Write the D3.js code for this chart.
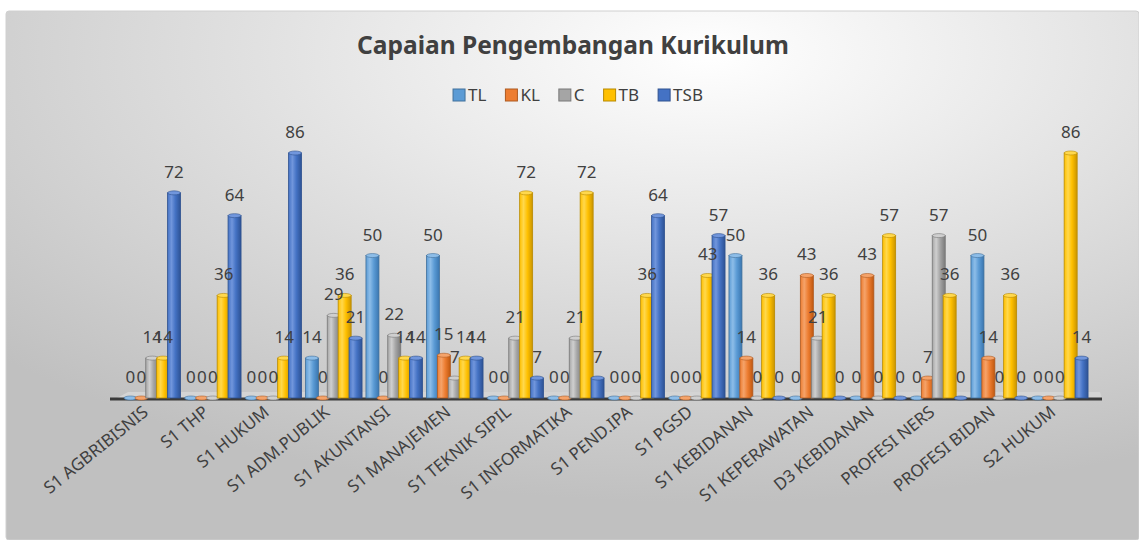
<!DOCTYPE html>
<html>
<head>
<meta charset="utf-8">
<script src="https://cdn.jsdelivr.net/npm/d3@7"></script>
<style>
  body { margin: 0; background: #fff; }
  svg { display: block; font-family: "Noto Sans", "Open Sans", sans-serif; }
</style>
</head>
<body>
<div id="chart"></div>
<script>
// data
var categories = ["S1 AGBRIBISNIS", "S1 THP", "S1 HUKUM", "S1 ADM.PUBLIK", "S1 AKUNTANSI",
  "S1 MANAJEMEN", "S1 TEKNIK SIPIL", "S1 INFORMATIKA", "S1 PEND.IPA", "S1 PGSD",
  "S1 KEBIDANAN", "S1 KEPERAWATAN", "D3 KEBIDANAN", "PROFESI NERS", "PROFESI BIDAN", "S2 HUKUM"];
var series = ["TL", "KL", "C", "TB", "TSB"];
var TL  = [0, 0, 0, 14, 50, 50, 0, 0, 0, 0, 50, 0, 0, 0, 50, 0];
var KL  = [0, 0, 0, 0, 0, 15, 0, 0, 0, 0, 14, 43, 43, 7, 14, 0];
var C   = [14, 0, 0, 29, 22, 7, 21, 21, 0, 0, 0, 21, 0, 57, 0, 0];
var TB  = [14, 36, 14, 36, 14, 14, 72, 72, 36, 43, 36, 36, 57, 36, 36, 86];
var TSB = [72, 64, 86, 21, 14, 14, 7, 7, 64, 57, 0, 0, 0, 0, 0, 14];
var values = { TL: TL, KL: KL, C: C, TB: TB, TSB: TSB };

var width = 1139, height = 540;
var baseY = 398;          // floor of the plot
var barW = 13;            // drawn width of one column
var textColor = "#404040";

// base, light, dark, outline
var palette = {
  TL:  ["#5b9bd5", "#8dbde8", "#3a76b0", "#41719c"],
  KL:  ["#ed7d31", "#f5a36a", "#c0580f", "#ae5a21"],
  C:   ["#a5a5a5", "#cfcfcf", "#7a7a7a", "#787878"],
  TB:  ["#ffc000", "#ffd84d", "#c99400", "#b88a00"],
  TSB: ["#4472c4", "#7196dc", "#2d5294", "#2f528f"]
};

var svg = d3.select("#chart").append("svg")
  .attr("width", width)
  .attr("height", height);

var defs = svg.append("defs");

// background gradient of the chart box
var bg = defs.append("radialGradient")
  .attr("id", "bg")
  .attr("cx", "62%").attr("cy", "8%").attr("r", "85%")
  .attr("gradientUnits", "objectBoundingBox");
bg.append("stop").attr("offset", "0%").attr("stop-color", "#ffffff");
bg.append("stop").attr("offset", "50%").attr("stop-color", "#dfdfdf");
bg.append("stop").attr("offset", "100%").attr("stop-color", "#c0c0c0");

series.forEach(function(s) {
  var g = defs.append("linearGradient").attr("id", "grad_" + s)
    .attr("x1", "0%").attr("x2", "100%").attr("y1", "0%").attr("y2", "0%");
  g.append("stop").attr("offset", "0%").attr("stop-color", palette[s][0]);
  g.append("stop").attr("offset", "30%").attr("stop-color", palette[s][1]);
  g.append("stop").attr("offset", "60%").attr("stop-color", palette[s][0]);
  g.append("stop").attr("offset", "100%").attr("stop-color", palette[s][2]);
});

svg.append("rect")
  .attr("x", 6).attr("y", 11)
  .attr("width", width - 6).attr("height", height - 11)
  .attr("rx", 3)
  .attr("fill", "url(#bg)")
  .attr("stroke", "#d0d0d0");

// title
svg.append("text")
  .attr("x", 573).attr("y", 54)
  .attr("text-anchor", "middle")
  .attr("font-size", 24.5)
  .attr("font-weight", "bold")
  .attr("fill", textColor)
  .text("Capaian  Pengembangan Kurikulum");

// legend
var legend = svg.append("g");
var lx = 0;
series.forEach(function(s) {
  var item = legend.append("g").attr("transform", "translate(" + lx + ",0)");
  item.append("rect")
    .attr("x", 0).attr("y", -6)
    .attr("width", 12).attr("height", 12)
    .attr("fill", palette[s][0])
    .attr("stroke", palette[s][3]);
  var t = item.append("text")
    .attr("x", 15).attr("y", 6)
    .attr("font-size", 17)
    .attr("fill", textColor)
    .text(s);
  lx += 15 + t.node().getComputedTextLength() + 19;
});
legend.attr("transform", "translate(" + (578 - (lx - 19) / 2) + ",95)");

// scales
var x0 = d3.scaleBand().domain(categories).range([122, 1090]).padding(0);
var x1 = d3.scaleBand().domain(series).range([3, x0.bandwidth() - 3]).padding(0);
var y = d3.scaleLinear().domain([0, 100]).range([baseY, baseY - 284.9]);

// floor strip and axis line
svg.append("path")
  .attr("d", "M" + 117 + "," + (baseY) + "L" + 128 + "," + (baseY - 6) +
             "L" + 1100 + "," + (baseY - 6) + "L" + 1102 + "," + baseY + "Z")
  .attr("fill", "#d4d4d4");
svg.append("line")
  .attr("x1", 110).attr("x2", 1102)
  .attr("y1", baseY + 1).attr("y2", baseY + 1)
  .attr("stroke", "#3a3a3a")
  .attr("stroke-width", 3);

// columns
var groups = svg.append("g").selectAll("g")
  .data(categories)
  .enter().append("g")
  .attr("transform", function(d) { return "translate(" + x0(d) + ",0)"; });

var cols = groups.selectAll("g.col")
  .data(function(d, i) {
    return series.map(function(s) { return { key: s, value: values[s][i] }; });
  })
  .enter().append("g")
  .attr("class", "col");

cols.append("rect")
  .attr("x", function(d) { return x1(d.key) + x1.bandwidth() / 2 - barW / 2; })
  .attr("y", function(d) { return y(d.value); })
  .attr("width", barW)
  .attr("height", function(d) { return y(0) - y(d.value); })
  .attr("fill", function(d) { return "url(#grad_" + d.key + ")"; })
  .attr("stroke", function(d) { return palette[d.key][3]; })
  .attr("stroke-width", 0.8);

cols.append("ellipse")
  .attr("cx", function(d) { return x1(d.key) + x1.bandwidth() / 2; })
  .attr("cy", function(d) { return y(d.value); })
  .attr("rx", barW / 2)
  .attr("ry", 2)
  .attr("fill", function(d) { return palette[d.key][1]; })
  .attr("stroke", function(d) { return palette[d.key][3]; })
  .attr("stroke-width", 0.6);

// value labels
groups.selectAll("text.val")
  .data(function(d, i) {
    return series.map(function(s) { return { key: s, value: values[s][i] }; });
  })
  .enter().append("text")
  .attr("class", "val")
  .attr("x", function(d) { return x1(d.key) + x1.bandwidth() / 2; })
  .attr("y", function(d) { return y(d.value) - 15; })
  .attr("text-anchor", "middle")
  .attr("font-size", 17)
  .attr("fill", textColor)
  .text(function(d) { return d.value; });

// category labels
svg.append("g").selectAll("text")
  .data(categories)
  .enter().append("text")
  .attr("transform", function(d) {
    return "translate(" + (x0(d) + x0.bandwidth() / 2 - 3) + "," + (baseY + 16) + ") rotate(-39)";
  })
  .attr("text-anchor", "end")
  .attr("font-size", 17)
  .attr("fill", textColor)
  .text(function(d) { return d; });
</script>
</body>
</html>
